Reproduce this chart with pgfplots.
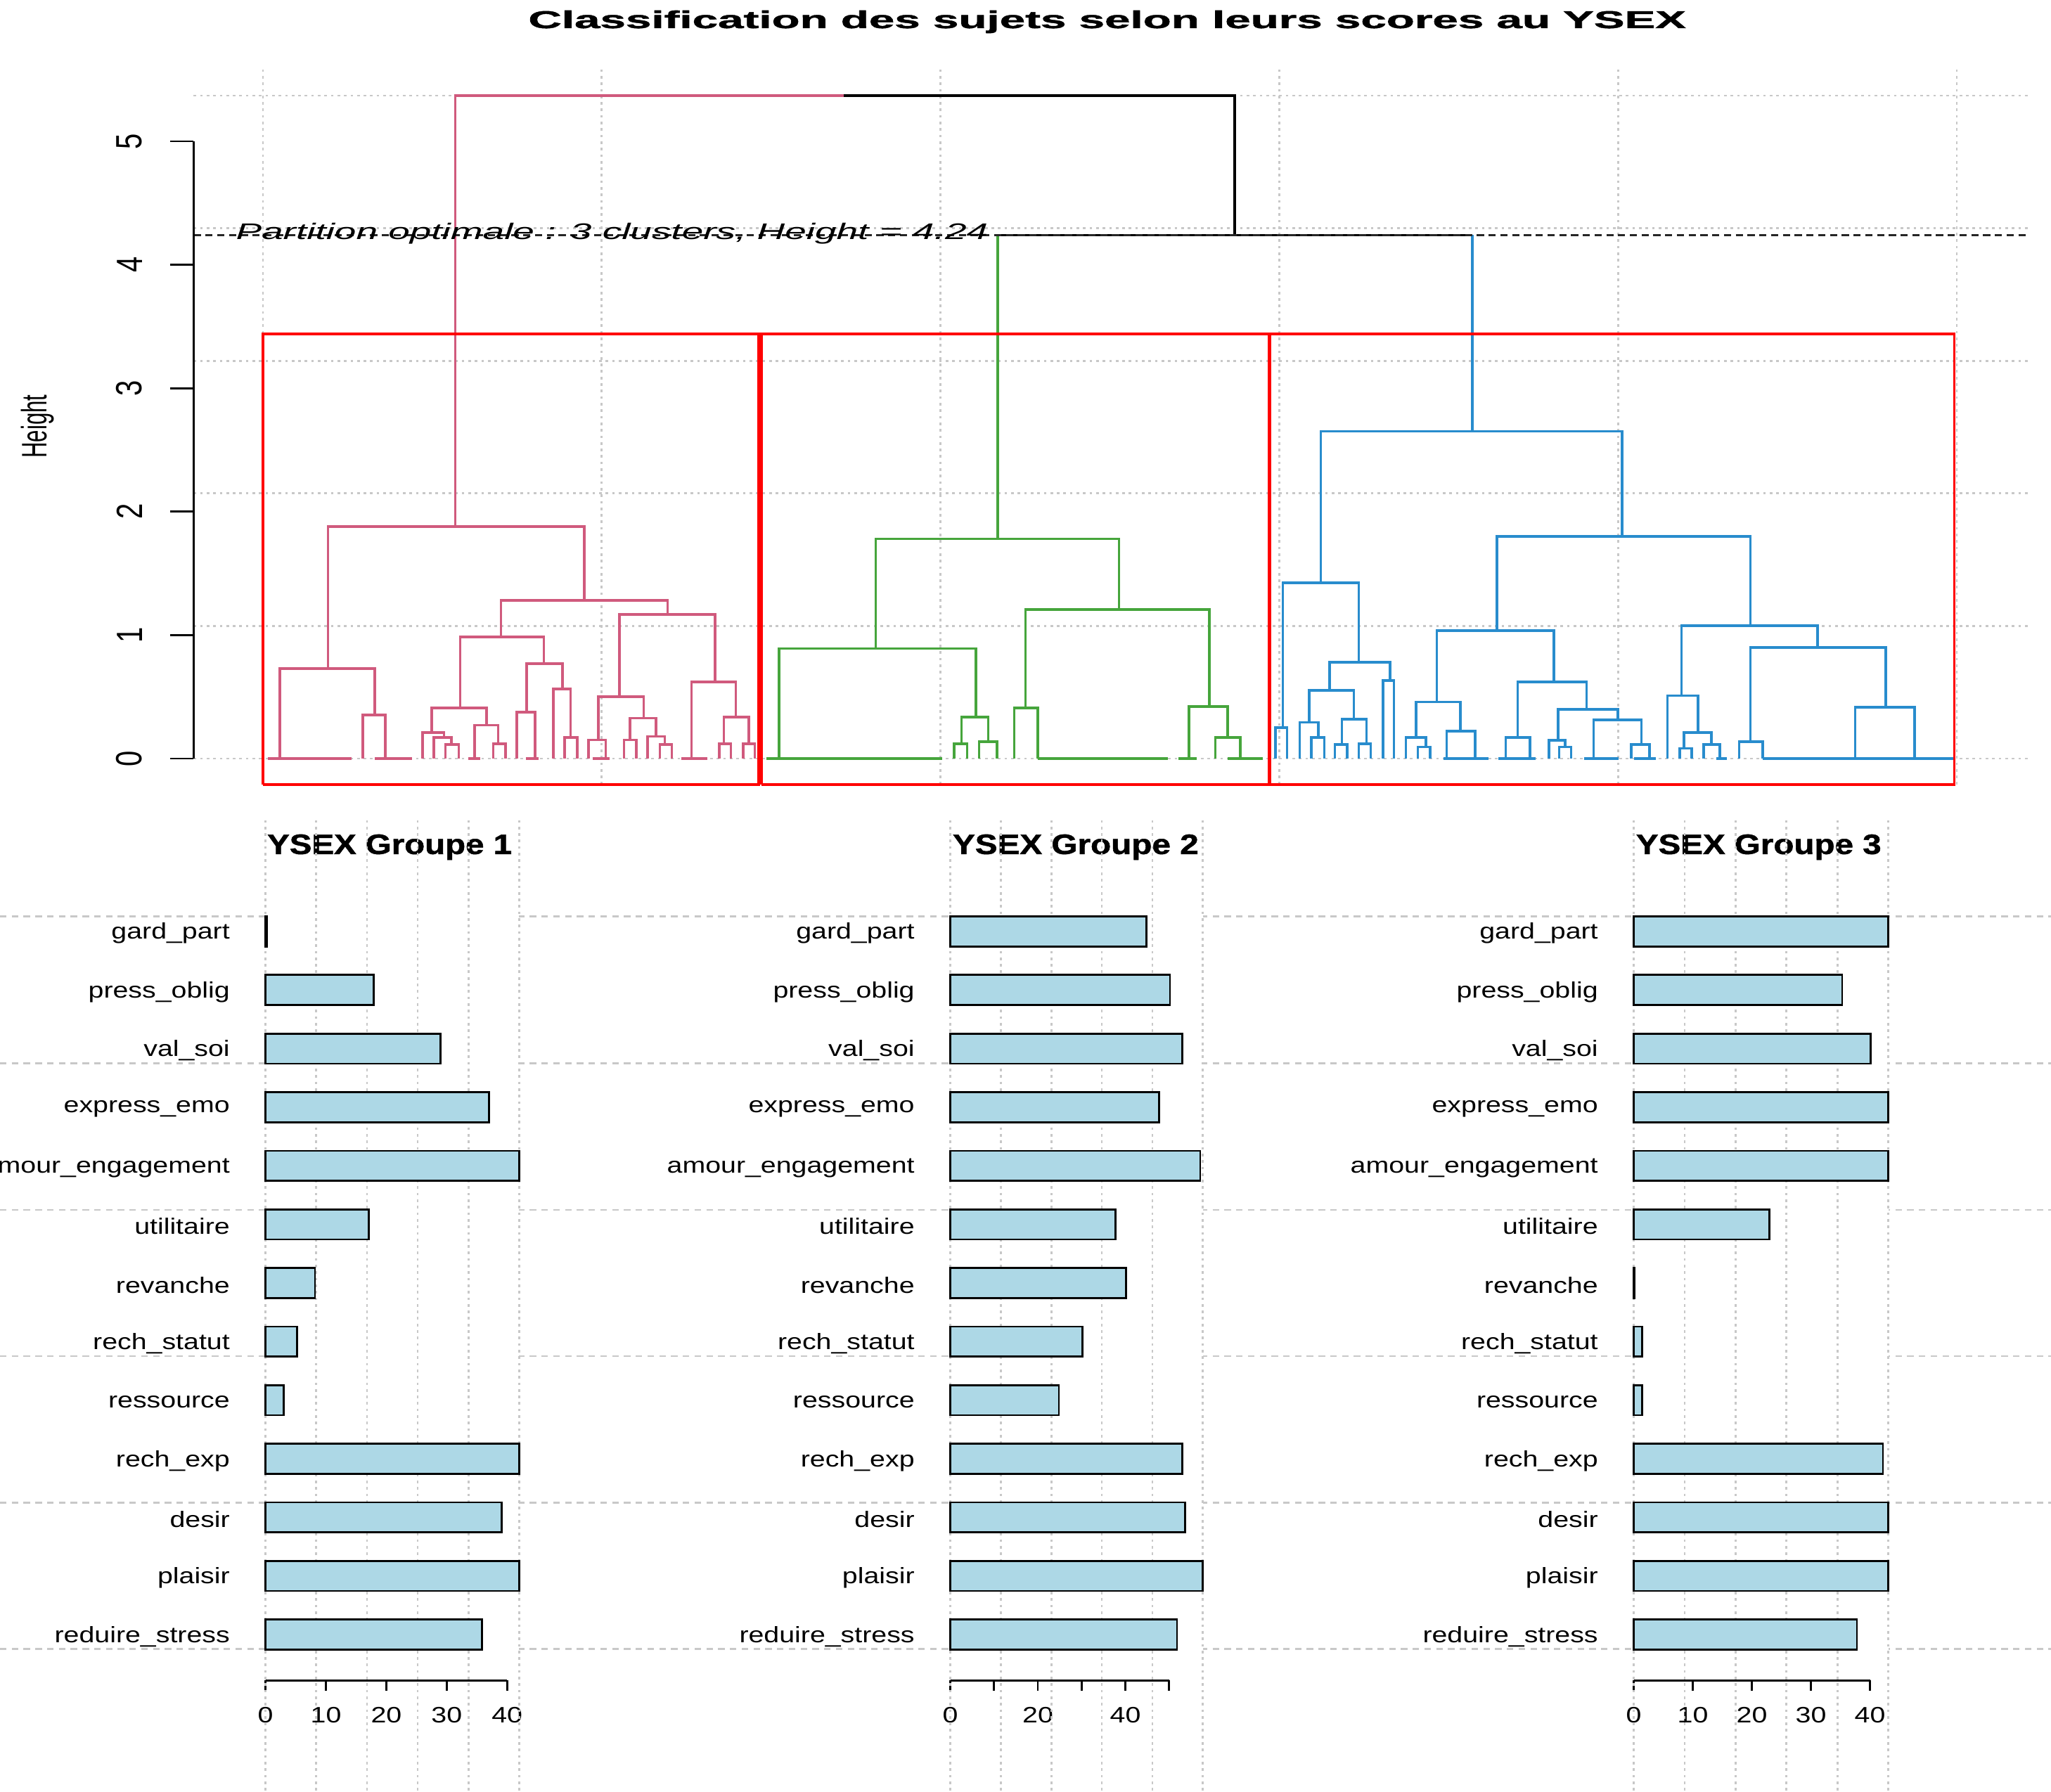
\documentclass[border=0pt]{standalone}
\usepackage{pgfplots}
\pgfplotsset{compat=1.18}
\usepackage{graphicx}
\usepackage{fontspec}
\setmainfont{Liberation Sans}
\newfontfamily\widefont[FakeStretch=1.24]{Liberation Sans}
\newfontfamily\condfont[FakeStretch=0.77]{Liberation Sans}
\newfontfamily\hfont[FakeStretch=0.62]{Liberation Sans}
\newfontfamily\heavyfont[FakeBold=1.2]{Liberation Sans Bold}
\definecolor{cA}{RGB}{208,90,125}
\definecolor{cB}{RGB}{70,165,60}
\definecolor{cC}{RGB}{40,140,205}
\definecolor{barblue}{RGB}{173,216,230}
\definecolor{gridgray}{RGB}{200,200,200}
\pgfplotsset{
  barpanel/.style={
    scale only axis, clip=false, unbounded coords=jump,
    height=119mm,
    ymin=0.219, ymax=13.5, xmin=0,
    axis line style={draw=none},
    axis background/.style={fill=white},
    xtick pos=left, ytick pos=left,
    tick align=outside,
    major tick length=1.6mm,
    xtick style={black, line width=0.3mm},
    ytick style={draw=none},
    ytick={1,...,13},
    yticklabels={reduire\_stress,plaisir,desir,rech\_exp,ressource,rech\_statut,revanche,utilitaire,amour\_engagement,express\_emo,val\_soi,press\_oblig,gard\_part},
    yticklabel style={font=\widefont\fontsize{9.7}{10}\selectfont, anchor=east, inner sep=0pt, yshift=-0.3mm},
    yticklabel shift=3.8mm,
    xticklabel style={font=\widefont\fontsize{9.7}{10}\selectfont, inner sep=0pt},
    xticklabel shift=2.4mm,
    /pgf/number format/assume math mode=true,
  },
  hbar/.style={xbar, bar width=0.513, fill=barblue, draw=black, line width=0.3mm},
  vgrid/.style={gridgray, line width=0.3mm, dash pattern=on 0.4mm off 0.6mm},
  dline/.style={line width=0.38mm},
}
\begin{document}
\begin{tikzpicture}
\path[use as bounding box] (0,0) rectangle (313.6mm,-274mm);
% ---------- canvas ----------
\begin{axis}[at={(0,0)}, anchor=north west, scale only axis, width=313.6mm, height=274mm,
  xmin=0, xmax=1568, ymin=-1370, ymax=0, hide axis, clip=false, unbounded coords=jump]
\addplot[gridgray, line width=0.3mm, dash pattern=on 1mm off 0.8mm] coordinates {
 (0,-700.7)(1568,-700.7) (0,nan) (0,-812.9)(1568,-812.9) (0,nan) (0,-925.1)(1568,-925.1) (0,nan)
 (0,-1036.9)(1568,-1036.9) (0,nan) (0,-1149.1)(1568,-1149.1) (0,nan) (0,-1260.9)(1568,-1260.9)};
\node[anchor=base, inner sep=0pt] at (axis cs:846.5,-21.5) {\resizebox{177mm}{2.7mm}{\heavyfont Classification des sujets selon leurs scores au YSEX}};
\node[rotate=90, inner sep=0pt] at (axis cs:29,-326) {\hfont\fontsize{15.4}{16}\selectfont Height};
\node[anchor=base west, inner sep=0pt] at (axis cs:204,-653) {\resizebox{37.4mm}{3.0mm}{\heavyfont YSEX Groupe 1}};
\node[anchor=base west, inner sep=0pt] at (axis cs:728,-653) {\resizebox{37.6mm}{3.0mm}{\heavyfont YSEX Groupe 2}};
\node[anchor=base west, inner sep=0pt] at (axis cs:1250.4,-653) {\resizebox{37.5mm}{3.0mm}{\heavyfont YSEX Groupe 3}};
\end{axis}
% ---------- dendrogram ----------
\begin{axis}[at={(148*0.2mm,-608.32*0.2mm)}, anchor=south west, scale only axis,
  width=280.4mm, height=111.39mm,
  xmin=148, xmax=1550, ymin=-0.3, ymax=5.6,
  clip=false, unbounded coords=jump,
  axis line style={draw=none},
  xtick=\empty, ytick={0,...,5}, ytick pos=left,
  tick align=outside, major tick length=3.6mm,
  ytick style={black, line width=0.3mm},
  yticklabel style={rotate=90, anchor=south, inner sep=0pt, font=\condfont\fontsize{15.9}{16}\selectfont},
  yticklabel shift=4.2mm,
  /pgf/number format/assume math mode=true]
% grid
\addplot[vgrid] coordinates {
 (201,-0.212)(201,5.59) (0,nan) (460,-0.212)(460,5.59) (0,nan) (719,-0.212)(719,5.59) (0,nan)
 (978,-0.212)(978,5.59) (0,nan) (1237,-0.212)(1237,5.59) (0,nan) (1496,-0.212)(1496,5.59)};
\addplot[vgrid] coordinates {
 (148,0)(1550,0) (0,nan) (148,1.074)(1550,1.074) (0,nan) (148,2.148)(1550,2.148) (0,nan)
 (148,3.222)(1550,3.222) (0,nan) (148,4.296)(1550,4.296) (0,nan) (148,5.37)(1550,5.37)};
% cluster 1
\addplot[cA, dline] coordinates {
(348,1.88)(348,5.37)(645,5.37) (0,nan)
(250.8,0.73)(250.8,1.88)(446.8,1.88)(446.8,1.28) (0,nan)
(214,0)(214,0.73)(286.6,0.73)(286.6,0.354) (0,nan)
(277.5,0)(277.5,0.354)(294.5,0.354)(294.5,0) (0,nan)
(383,0.984)(383,1.28)(510.5,1.28)(510.5,1.166) (0,nan)
(351.8,0.41)(351.8,0.984)(415.9,0.984)(415.9,0.77) (0,nan)
(330,0.21)(330,0.41)(372,0.41)(372,0.27) (0,nan)
(323,0)(323,0.21)(339.4,0.21)(339.4,0.17) (0,nan)
(331.8,0)(331.8,0.17)(345,0.17)(345,0.115) (0,nan)
(340.5,0)(340.5,0.115)(350.7,0.115)(350.7,0) (0,nan)
(362.7,0)(362.7,0.27)(380.8,0.27)(380.8,0.12) (0,nan)
(377,0)(377,0.12)(386.5,0.12)(386.5,0) (0,nan)
(402.7,0.376)(402.7,0.77)(429.9,0.77)(429.9,0.564) (0,nan)
(395,0)(395,0.376)(409,0.376)(409,0) (0,nan)
(423,0)(423,0.564)(436.3,0.564)(436.3,0.17) (0,nan)
(431.7,0)(431.7,0.17)(441.2,0.17)(441.2,0) (0,nan)
(473.6,0.5)(473.6,1.166)(546.8,1.166)(546.8,0.62) (0,nan)
(457.4,0.15)(457.4,0.5)(492,0.5)(492,0.327) (0,nan)
(449.9,0)(449.9,0.15)(463,0.15)(463,0) (0,nan)
(481.5,0.15)(481.5,0.327)(501.5,0.327)(501.5,0.18) (0,nan)
(477,0)(477,0.15)(486.4,0.15)(486.4,0) (0,nan)
(495,0)(495,0.18)(508.3,0.18)(508.3,0.115) (0,nan)
(504.5,0)(504.5,0.115)(513.6,0.115)(513.6,0) (0,nan)
(528.7,0)(528.7,0.62)(562.6,0.62)(562.6,0.335) (0,nan)
(553.5,0.12)(553.5,0.335)(572.4,0.335)(572.4,0.12) (0,nan)
(549.8,0)(549.8,0.12)(558.8,0.12)(558.8,0) (0,nan)
(568.3,0)(568.3,0.12)(577,0.12)(577,0) (0,nan)
(204.8,0)(268.9,0) (0,nan) (286.6,0)(314.9,0) (0,nan) (521,0)(541,0) (0,nan)
(358,0)(367,0) (0,nan) (402,0)(412,0) (0,nan) (453,0)(466,0)};
% cluster 2
\addplot[cB, dline] coordinates {
(762.8,1.78)(762.8,4.24) (0,nan)
(669.6,0.89)(669.6,1.78)(855.4,1.78)(855.4,1.207) (0,nan)
(595.6,0)(595.6,0.89)(746.2,0.89)(746.2,0.335) (0,nan)
(735,0.12)(735,0.335)(755.4,0.335)(755.4,0.136) (0,nan)
(729.5,0)(729.5,0.12)(739.4,0.12)(739.4,0) (0,nan)
(748.4,0)(748.4,0.136)(762.2,0.136)(762.2,0) (0,nan)
(784.1,0.41)(784.1,1.207)(924.5,1.207)(924.5,0.42) (0,nan)
(775.5,0)(775.5,0.41)(793.4,0.41)(793.4,0) (0,nan)
(909,0)(909,0.42)(938.5,0.42)(938.5,0.17) (0,nan)
(929,0)(929,0.17)(948.3,0.17)(948.3,0) (0,nan)
(586,0)(720.3,0) (0,nan) (793.4,0)(893,0) (0,nan) (901,0)(915,0) (0,nan) (938.5,0)(965.5,0)};
% cluster 3
\addplot[cC, dline] coordinates {
(1125.7,2.65)(1125.7,4.24) (0,nan)
(1009.7,1.425)(1009.7,2.65)(1240.2,2.65)(1240.2,1.8) (0,nan)
(980.6,0.25)(980.6,1.425)(1038.8,1.425)(1038.8,0.78) (0,nan)
(975.2,0)(975.2,0.25)(984,0.25)(984,0) (0,nan)
(1016.6,0.553)(1016.6,0.78)(1062.6,0.78)(1062.6,0.632) (0,nan)
(1000.9,0.294)(1000.9,0.553)(1035,0.553)(1035,0.32) (0,nan)
(993.6,0)(993.6,0.294)(1007.8,0.294)(1007.8,0.17) (0,nan)
(1002.4,0)(1002.4,0.17)(1012.4,0.17)(1012.4,0) (0,nan)
(1025.8,0.115)(1025.8,0.32)(1044.6,0.32)(1044.6,0.12) (0,nan)
(1020.4,0)(1020.4,0.115)(1030,0.115)(1030,0) (0,nan)
(1038.8,0)(1038.8,0.12)(1048,0.12)(1048,0) (0,nan)
(1057.2,0)(1057.2,0.632)(1065.6,0.632)(1065.6,0) (0,nan)
(1144.5,1.035)(1144.5,1.8)(1338.3,1.8)(1338.3,1.076) (0,nan)
(1098.5,0.458)(1098.5,1.035)(1187.8,1.035)(1187.8,0.62) (0,nan)
(1082.5,0.17)(1082.5,0.458)(1116.5,0.458)(1116.5,0.223) (0,nan)
(1074.8,0)(1074.8,0.17)(1090.1,0.17)(1090.1,0.095) (0,nan)
(1084,0)(1084,0.095)(1093.2,0.095)(1093.2,0) (0,nan)
(1105.9,0)(1105.9,0.223)(1127.7,0.223)(1127.7,0) (0,nan)
(1160.2,0.17)(1160.2,0.62)(1213,0.62)(1213,0.4) (0,nan)
(1151,0)(1151,0.17)(1169.8,0.17)(1169.8,0) (0,nan)
(1191.2,0.147)(1191.2,0.4)(1236.8,0.4)(1236.8,0.313) (0,nan)
(1184.3,0)(1184.3,0.147)(1196.6,0.147)(1196.6,0.093) (0,nan)
(1192,0)(1192,0.093)(1201,0.093)(1201,0) (0,nan)
(1218.4,0)(1218.4,0.313)(1254.8,0.313)(1254.8,0.115) (0,nan)
(1247.1,0)(1247.1,0.115)(1261,0.115)(1261,0) (0,nan)
(1285.4,0.51)(1285.4,1.076)(1389.6,1.076)(1389.6,0.9) (0,nan)
(1274.7,0)(1274.7,0.51)(1298,0.51)(1298,0.21) (0,nan)
(1287.3,0.082)(1287.3,0.21)(1308.4,0.21)(1308.4,0.115) (0,nan)
(1284.3,0)(1284.3,0.082)(1293.4,0.082)(1293.4,0) (0,nan)
(1302.3,0)(1302.3,0.115)(1314.8,0.115)(1314.8,0) (0,nan)
(1338.3,0.136)(1338.3,0.9)(1441.6,0.9)(1441.6,0.417) (0,nan)
(1329.5,0)(1329.5,0.136)(1347.5,0.136)(1347.5,0) (0,nan)
(1418.3,0)(1418.3,0.417)(1463.8,0.417)(1463.8,0) (0,nan)
(1347.5,0)(1494,0) (0,nan) (1103.5,0)(1138,0) (0,nan) (1145.7,0)(1174,0) (0,nan)
(1211,0)(1237.5,0) (0,nan) (1249,0)(1266,0) (0,nan) (1312,0)(1320,0)};
% upper (black) links
\addplot[black, dline] coordinates {
(645,5.37)(944,5.37)(944,4.24) (0,nan) (762.8,4.24)(1125.7,4.24)};
% cut line
\addplot[black!85, line width=0.38mm, dash pattern=on 1.1mm off 0.7mm] coordinates {(148,4.24)(1550,4.24)};
% cluster rectangles
\addplot[red, line width=0.4mm] coordinates {(201,-0.21)(201,3.44)(580,3.44)(580,-0.21)(201,-0.21)};
\addplot[red, line width=0.4mm] coordinates {(582,-0.21)(582,3.44)(970,3.44)(970,-0.21)(582,-0.21)};
\addplot[red, line width=0.4mm] coordinates {(971,-0.21)(971,3.44)(1494,3.44)(1494,-0.21)(971,-0.21)};
% y axis line
\addplot[black, line width=0.3mm] coordinates {(148,0)(148,5)};
\node[anchor=base west, inner sep=0pt] at (axis cs:180,4.206) {\resizebox{115mm}{2.5mm}{\itshape Partition optimale : 3 clusters, Height = 4.24}};
\end{axis}
% ---------- bar panel 1 ----------
\begin{axis}[barpanel, at={(203*0.2mm,-1284.8*0.2mm)}, anchor=south west,
  width=38.78mm, xmax=42, xtick={0,10,...,40}]
\addplot[vgrid] coordinates {(0,14.9)(0,-1.68) (0,nan) (8.4,14.9)(8.4,-1.68) (0,nan) (16.8,14.9)(16.8,-1.68) (0,nan)
 (25.2,14.9)(25.2,-1.68) (0,nan) (33.6,14.9)(33.6,-1.68) (0,nan) (42,14.9)(42,-1.68)};
\addplot[hbar] coordinates {(35.8,1)(42.0,2)(39.1,3)(42.0,4)(3.0,5)(5.2,6)(8.2,7)(17.1,8)(42.0,9)(37.0,10)(29.0,11)(17.9,12)(0.2,13)};
\addplot[black, line width=0.3mm] coordinates {(0,0.219)(40,0.219)};
\end{axis}
% ---------- bar panel 2 ----------
\begin{axis}[barpanel, at={(726.5*0.2mm,-1284.8*0.2mm)}, anchor=south west,
  width=38.62mm, xmax=57.7, xtick={0,10,...,50}, xticklabels={0,,20,,40,}]
\addplot[vgrid] coordinates {(0,14.9)(0,-1.68) (0,nan) (11.54,14.9)(11.54,-1.68) (0,nan) (23.08,14.9)(23.08,-1.68) (0,nan)
 (34.62,14.9)(34.62,-1.68) (0,nan) (46.16,14.9)(46.16,-1.68) (0,nan) (57.7,14.9)(57.7,-1.68)};
\addplot[hbar] coordinates {(51.8,1)(57.7,2)(53.6,3)(53.0,4)(24.8,5)(30.2,6)(40.1,7)(37.7,8)(57.1,9)(47.7,10)(53.0,11)(50.2,12)(44.8,13)};
\addplot[black, line width=0.3mm] coordinates {(0,0.219)(50,0.219)};
\end{axis}
% ---------- bar panel 3 ----------
\begin{axis}[barpanel, at={(1249*0.2mm,-1284.8*0.2mm)}, anchor=south west,
  width=38.92mm, xmax=43.1, xtick={0,10,...,40}]
\addplot[vgrid] coordinates {(0,14.9)(0,-1.68) (0,nan) (8.62,14.9)(8.62,-1.68) (0,nan) (17.24,14.9)(17.24,-1.68) (0,nan)
 (25.86,14.9)(25.86,-1.68) (0,nan) (34.48,14.9)(34.48,-1.68) (0,nan) (43.1,14.9)(43.1,-1.68)};
\addplot[hbar] coordinates {(37.8,1)(43.1,2)(43.1,3)(42.2,4)(1.4,5)(1.4,6)(0.1,7)(23.0,8)(43.1,9)(43.1,10)(40.1,11)(35.3,12)(43.1,13)};
\addplot[black, line width=0.3mm] coordinates {(0,0.219)(40,0.219)};
\end{axis}
\end{tikzpicture}
\end{document}
